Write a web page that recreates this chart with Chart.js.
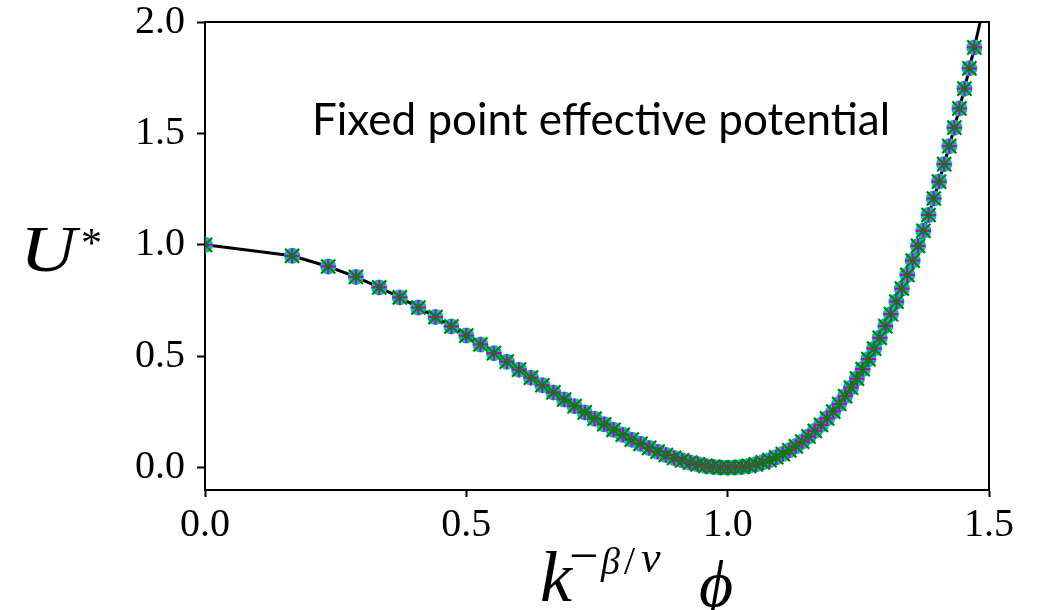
<!DOCTYPE html>
<html>
<head>
<meta charset="utf-8">
<script src="https://cdn.jsdelivr.net/npm/chart.js@4.4.1/dist/chart.umd.min.js"></script>
<style>
  html, body { margin: 0; padding: 0; background: #fff; }
  #wrap { position: relative; width: 1037px; height: 610px; overflow: hidden; }
  #c { position: absolute; left: 0; top: 0; }
  #ov { position: absolute; left: 0; top: 0; pointer-events: none; overflow: hidden; }
</style>
</head>
<body>
<div id="wrap">
  <canvas id="c" width="1037" height="610"></canvas>
  <svg id="ov" width="1037" height="610" xmlns="http://www.w3.org/2000/svg">
    <text x="312" y="135" font-family="Lato" font-size="44" fill="#000">Fixed point effective potential</text>
    <text transform="translate(20,271) scale(1.18,1)" font-family="Liberation Serif" font-style="italic" font-size="66" fill="#000">U</text>
    <text x="81" y="257" font-family="Liberation Serif" font-size="42" fill="#000">*</text>
    <text x="540" y="601" font-family="Liberation Serif" font-style="italic" font-size="72" fill="#000">k</text>
    <text x="569" y="573" font-family="Liberation Serif" font-size="52" fill="#000">−</text>
    <text x="601" y="574" font-family="Liberation Serif" font-style="italic" font-size="38" fill="#000">β</text>
    <text x="624" y="574" font-family="Liberation Serif" font-size="40" fill="#000">/</text>
    <text x="641" y="572" font-family="Liberation Serif" font-style="italic" font-size="44" fill="#000">ν</text>
    <text x="699" y="606" font-family="Liberation Serif" font-style="italic" font-size="66" fill="#000">ϕ</text>
  </svg>
</div>
<script>
// scaled field values (horizontal axis)
const xVals = [0, 0.1667, 0.2357, 0.2887, 0.3333, 0.3727, 0.4082, 0.4410, 0.4714, 0.5000,
  0.5270, 0.5528, 0.5774, 0.6009, 0.6236, 0.6455, 0.6667, 0.6872, 0.7071, 0.7265,
  0.7454, 0.7638, 0.7817, 0.7993, 0.8165, 0.8333, 0.8498, 0.8660, 0.8819, 0.8975,
  0.9129, 0.9280, 0.9428, 0.9574, 0.9718, 0.9860, 1.0000, 1.0138, 1.0274, 1.0408,
  1.0541, 1.0672, 1.0801, 1.0929, 1.1055, 1.1180, 1.1304, 1.1426, 1.1547, 1.1667,
  1.1785, 1.1902, 1.2019, 1.2134, 1.2247, 1.2360, 1.2472, 1.2583, 1.2693, 1.2802,
  1.2910, 1.3017, 1.3123, 1.3229, 1.3333, 1.3437, 1.3540, 1.3642, 1.3744, 1.3844,
  1.3944, 1.4044, 1.4142, 1.4240, 1.4337, 1.4434, 1.4530, 1.4625, 1.4720];
// fixed point potential U*
const uVals = [1.000, 0.951, 0.903, 0.856, 0.809, 0.764, 0.719, 0.676, 0.634, 0.593,
  0.553, 0.514, 0.476, 0.440, 0.404, 0.370, 0.338, 0.306, 0.276, 0.248,
  0.220, 0.195, 0.170, 0.148, 0.126, 0.107, 0.089, 0.072, 0.057, 0.044,
  0.033, 0.023, 0.015, 0.008, 0.004, 0.001, 0.000, 0.001, 0.004, 0.008,
  0.015, 0.024, 0.034, 0.047, 0.061, 0.078, 0.096, 0.117, 0.140, 0.165,
  0.192, 0.221, 0.252, 0.286, 0.321, 0.359, 0.400, 0.442, 0.487, 0.534,
  0.583, 0.635, 0.689, 0.745, 0.804, 0.865, 0.929, 0.995, 1.063, 1.134,
  1.208, 1.284, 1.362, 1.443, 1.526, 1.612, 1.701, 1.792, 1.886];
// continuation of the solid curve beyond the last marker (leaves the top of the frame)
const curveExtraX = [1.4813, 1.4907];
const curveExtraU = [1.982, 2.081];
// tick labels
const xTicks = [0.0, 0.5, 1.0, 1.5];
const yTicks = [0.0, 0.5, 1.0, 1.5, 2.0];

const pts = xVals.map((x, i) => ({ x: x, y: uVals[i] }));
const allU = uVals.concat(curveExtraU);
const curve = xVals.concat(curveExtraX).map((x, i) => ({ x: x, y: allU[i] }));

const tickFont = { family: 'Liberation Serif', size: 40, lineHeight: 1 };
const noPad = s => { s.paddingTop = 0; s.paddingBottom = 0; s.paddingLeft = 0; s.paddingRight = 0; };

new Chart(document.getElementById('c'), {
  type: 'scatter',
  data: {
    datasets: [
      { label: 'x', data: pts, pointStyle: 'crossRot', pointRadius: 10, borderColor: '#008000', backgroundColor: '#008000', borderWidth: 2.2, clip: 0 },
      { label: '+', data: pts, pointStyle: 'cross', pointRadius: 7.5, borderColor: '#bf00bf', backgroundColor: '#bf00bf', borderWidth: 2.2, clip: 0 },
      { label: 'o', data: pts, pointStyle: 'circle', pointRadius: 8, backgroundColor: '#00bfbf', borderColor: '#00bfbf', borderWidth: 0, clip: 0 },
      { label: 'curve', data: curve, showLine: true, pointRadius: 0, borderColor: '#000', borderWidth: 3, tension: 0, clip: 0 }
    ]
  },
  options: {
    responsive: false,
    animation: false,
    events: [],
    devicePixelRatio: 1,
    layout: { padding: { left: 0, top: 22, right: 48, bottom: 0 } },
    plugins: { legend: { display: false }, tooltip: { enabled: false }, title: { display: false } },
    scales: {
      x: {
        type: 'linear', position: 'bottom', min: 0, max: 1.5,
        afterBuildTicks: s => { s.ticks = xTicks.map(v => ({ value: v })); },
        afterFit: s => { s.height = 120; noPad(s); },
        ticks: { font: tickFont, color: '#000', padding: 8, maxRotation: 0, autoSkip: false, callback: v => Number(v).toFixed(1) },
        grid: { drawOnChartArea: false, drawTicks: true, tickLength: 7, tickWidth: 2, tickColor: '#000' },
        border: { display: true, color: '#000', width: 2 }
      },
      y: {
        type: 'linear', position: 'left', min: -0.1, max: 2.0,
        afterBuildTicks: s => { s.ticks = yTicks.map(v => ({ value: v })); },
        afterFit: s => { s.width = 205; noPad(s); },
        ticks: { font: tickFont, color: '#000', padding: 12, autoSkip: false, callback: v => Number(v).toFixed(1) },
        grid: { drawOnChartArea: false, drawTicks: true, tickLength: 8, tickWidth: 2, tickColor: '#000' },
        border: { display: true, color: '#000', width: 2 }
      },
      x2: {
        type: 'linear', position: 'top', min: 0, max: 1.5,
        afterFit: s => { s.height = 0; noPad(s); },
        ticks: { display: false }, grid: { display: false },
        border: { display: true, color: '#000', width: 2 }
      },
      y2: {
        type: 'linear', position: 'right', min: -0.1, max: 2.0,
        afterFit: s => { s.width = 0; noPad(s); },
        ticks: { display: false }, grid: { display: false },
        border: { display: true, color: '#000', width: 2 }
      }
    }
  }
});
</script>
</body>
</html>
